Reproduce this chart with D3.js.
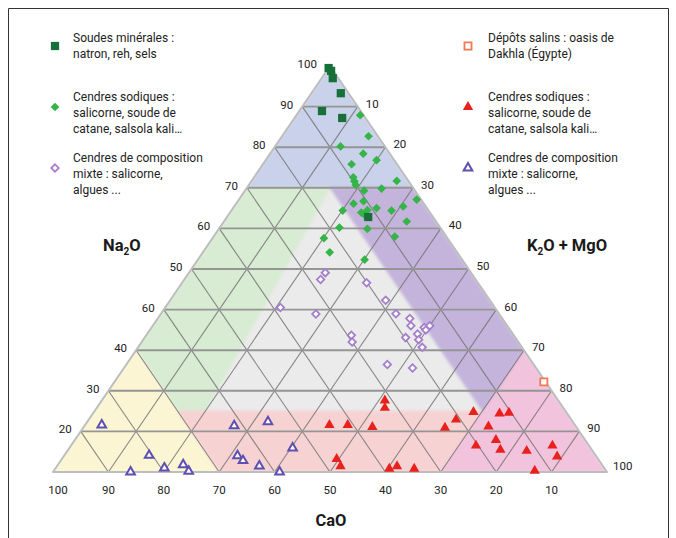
<!DOCTYPE html>
<html>
<head>
<meta charset="utf-8">
<script src="https://cdn.jsdelivr.net/npm/d3@7"></script>
<style>
  html, body { margin: 0; padding: 0; background: #fff; }
  svg { display: block; font-family: Roboto, "Noto Sans", sans-serif; }
</style>
</head>
<body>
<script>
// ---------- DATA (each point = [Na2O, CaO, K2O+MgO], %) ----------
const soudesMinerales = [
  [99.5, 0.5, 0.0], [98.8, 0.4, 0.8], [97.0, 1.0, 2.0], [93.3, 1.4, 5.3],
  [88.9, 7.0, 4.1], [87.2, 4.2, 8.6], [62.8, 11.7, 25.5]
];
const cendresSodiquesVert = [
  [87.9, 0.6, 11.5], [82.7, 1.7, 15.6], [80.2, 8.0, 11.8], [78.4, 4.8, 16.8],
  [76.8, 3.2, 20.0], [75.8, 8.2, 16.0], [72.6, 9.5, 17.9], [71.6, 9.8, 18.6],
  [70.7, 10.0, 19.3], [71.7, 2.1, 26.2], [69.8, 5.8, 24.4], [69.3, 9.2, 21.5],
  [67.1, 0.8, 32.1], [66.1, 12.7, 21.2], [66.7, 10.6, 22.7], [64.4, 15.5, 20.1],
  [65.0, 9.1, 25.9], [64.4, 6.7, 28.9], [65.4, 4.1, 30.5], [63.9, 12.4, 23.7],
  [63.4, 12.1, 24.5], [64.5, 11.0, 24.5], [61.7, 5.3, 33.0], [59.9, 13.3, 26.8],
  [60.2, 18.2, 21.6], [58.0, 9.3, 32.7], [57.6, 22.3, 20.1], [54.1, 23.0, 22.9],
  [52.3, 17.6, 30.1]
];
const cendresMixtesLosange = [
  [49.1, 26.3, 24.6], [47.4, 28.0, 24.6], [46.6, 20.1, 33.3], [42.3, 18.8, 38.9],
  [40.5, 38.7, 20.8], [38.9, 33.1, 28.0], [39.0, 18.6, 42.4], [37.8, 16.7, 45.5],
  [36.0, 17.4, 46.6], [35.6, 15.2, 49.2], [36.0, 14.0, 50.0], [35.0, 15.2, 49.8],
  [34.0, 17.2, 48.8], [33.1, 19.8, 47.1], [33.7, 29.3, 37.0], [32.0, 30.0, 38.0],
  [32.6, 17.7, 49.7], [30.7, 18.0, 51.3], [26.5, 26.4, 47.1], [25.6, 22.3, 52.1]
];
const depotsSalins = [
  [22.2, 0.3, 77.5]
];
const cendresSodiquesRouge = [
  [17.6, 31.3, 51.1], [15.8, 32.2, 52.0], [11.6, 44.3, 44.1], [11.6, 41.0, 47.4],
  [11.1, 36.8, 52.1], [10.9, 23.8, 65.3], [12.9, 20.8, 66.3], [14.8, 16.7, 68.5],
  [14.4, 12.2, 73.4], [14.6, 10.4, 75.0], [11.2, 15.8, 73.0], [7.9, 16.1, 76.0],
  [6.5, 20.4, 73.1], [5.5, 16.5, 78.0], [5.2, 11.9, 82.9], [6.5, 6.6, 86.9],
  [3.8, 7.1, 89.1], [0.3, 12.9, 86.8], [3.2, 47.2, 49.6], [1.4, 47.4, 51.2],
  [0.8, 38.9, 60.3], [1.4, 37.2, 61.4], [0.8, 34.4, 64.8]
];
const cendresMixtesTriangle = [
  [11.6, 85.4, 3.0], [4.1, 80.6, 15.3], [0.0, 86.0, 14.0], [1.0, 79.4, 19.6],
  [1.8, 75.6, 22.6], [0.2, 75.4, 24.4], [11.4, 61.6, 27.0], [12.4, 55.0, 32.6],
  [4.0, 64.7, 31.3], [2.8, 64.3, 32.9], [1.5, 62.0, 36.5], [5.9, 53.8, 40.3],
  [0.0, 59.1, 40.9]
];

// tick values and labels
const gridValues = [10, 20, 30, 40, 50, 60, 70, 80, 90];
const na2oTickValues = [100, 90, 80, 70, 60, 50, 40, 30, 20, 10];
const na2oTickLabels = ["100", "90", "80", "70", "60", "50", "60", "40", "30", "20"];
const k2oTickValues = [10, 20, 30, 40, 50, 60, 70, 80, 90, 100];
const k2oTickLabels = ["10", "20", "30", "40", "50", "60", "70", "80", "90", "100"];
const caoTickValues = [100, 90, 80, 70, 60, 50, 40, 30, 20, 10];
const caoTickLabels = ["100", "90", "80", "70", "60", "50", "40", "30", "20", "10"];

// background zones (vertices in [Na2O, CaO, K2O+MgO])
const zoneNames = ["gris", "bleu", "vert", "jaune", "rose", "magenta", "violet"];
const zoneColors = ["#ebebeb", "#c9d2ea", "#d8ebd3", "#fbf5d3", "#f7d2d3", "#f2c3dd", "#c4b4dc"];
const zoneVertices = [
  [[100, 0, 0], [0, 100, 0], [0, 0, 100]],
  [[100, 0, 0], [70, 30, 0], [70, 0, 30]],
  [[70, 30, 0], [70, 15, 15], [15, 65, 20], [15, 70, 15], [30, 70, 0]],
  [[30, 70, 0], [0, 100, 0], [0, 70, 30]],
  [[15, 70, 15], [0, 70, 30], [0, 30, 70], [15, 15, 70]],
  [[30, 0, 70], [0, 0, 100], [0, 30, 70]],
  [[70, 15, 15], [70, 0, 30], [30, 0, 70], [15, 15, 70]]
];

// legend
const legendLeft = [
  { key: "square", lines: ["Soudes minérales :", "natron, reh, sels"] },
  { key: "diamond", lines: ["Cendres sodiques :", "salicorne, soude de", "catane, salsola kali\u2026"] },
  { key: "diamondOpen", lines: ["Cendres de composition", "mixte : salicorne,", "algues ..."] }
];
const legendRight = [
  { key: "squareOpen", lines: ["Dépôts salins : oasis de", "Dakhla (Égypte)"] },
  { key: "triangle", lines: ["Cendres sodiques :", "salicorne, soude de", "catane, salsola kali\u2026"] },
  { key: "triangleOpen", lines: ["Cendres de composition", "mixte : salicorne,", "algues ..."] }
];

// ---------- DRAWING ----------
const W = 676, H = 538;
const svg = d3.select("body").append("svg").attr("width", W).attr("height", H);

// frame
svg.append("path")
  .attr("d", "M8.5,538 L8.5,8.5 L668.5,8.5 L668.5,538")
  .attr("fill", "none").attr("stroke", "#333").attr("stroke-width", 1);

const xS = d3.scaleLinear().domain([0, 100]).range([53, 607]);
const yS = d3.scaleLinear().domain([0, 100]).range([472, 66]);
function proj(d) { const na = d[0], k = d[2]; return [xS(k + na / 2), yS(na)]; }
const line = d3.line();

const defs = svg.append("defs");
defs.append("clipPath").attr("id", "triClip")
  .append("path").attr("d", line(zoneVertices[0].map(proj)) + "Z");
const blur = defs.append("filter").attr("id", "soft")
  .attr("x", "-5%").attr("y", "-5%").attr("width", "110%").attr("height", "110%");
blur.append("feGaussianBlur").attr("stdDeviation", 1.8);

const zonesG = svg.append("g").attr("clip-path", "url(#triClip)")
  .append("g").attr("filter", "url(#soft)");
zonesG.selectAll("path").data(zoneVertices).join("path")
  .attr("d", v => line(v.map(proj)) + "Z")
  .attr("fill", (v, i) => zoneColors[i])
  .attr("stroke", (v, i) => i === 0 ? "none" : zoneColors[i])
  .attr("stroke-width", 1);

// grid
const gridG = svg.append("g");
const diagLines = [];
gridValues.forEach(v => {
  diagLines.push([[0, v, 100 - v], [100 - v, v, 0]]);      // CaO constant
  diagLines.push([[0, 100 - v, v], [100 - v, 0, v]]);      // K2O constant
});
gridG.selectAll("path.diag").data(diagLines).join("path").attr("class", "diag")
  .attr("d", s => line(s.map(proj)))
  .attr("stroke", "#747474").attr("stroke-width", 1.1).attr("stroke-opacity", 0.85).attr("fill", "none");
gridG.selectAll("path.hor").data(gridValues).join("path").attr("class", "hor")
  .attr("d", v => line([[v, 100 - v, 0], [v, 0, 100 - v]].map(proj)))
  .attr("stroke", "#959595").attr("stroke-width", 1.9).attr("fill", "none");

// outline
svg.append("path").attr("d", line(zoneVertices[0].map(proj)) + "Z")
  .attr("fill", "none").attr("stroke", "#bdbdbd").attr("stroke-width", 2).attr("stroke-linejoin", "round");

// tick labels
const tickG = svg.append("g").attr("font-size", 11.5).attr("fill", "#222");
tickG.selectAll("text.na").data(na2oTickValues).join("text").attr("class", "na")
  .attr("x", v => proj([v, 100 - v, 0])[0] - (v === 100 ? 13 : 9))
  .attr("y", v => proj([v, 100 - v, 0])[1] + 2)
  .attr("text-anchor", "end")
  .text((v, i) => na2oTickLabels[i]);
tickG.selectAll("text.k").data(k2oTickValues).join("text").attr("class", "k")
  .attr("x", v => proj([100 - v, 0, v])[0] + (v === 100 ? 6 : 8))
  .attr("y", v => proj([100 - v, 0, v])[1] + (v === 100 ? -2 : 1))
  .attr("text-anchor", "start")
  .text((v, i) => k2oTickLabels[i]);
tickG.selectAll("text.ca").data(caoTickValues).join("text").attr("class", "ca")
  .attr("x", v => proj([0, v, 100 - v])[0] + (v === 100 ? 5 : 0))
  .attr("y", v => proj([0, v, 100 - v])[1] + 22)
  .attr("text-anchor", "middle")
  .text((v, i) => caoTickLabels[i]);

// axis titles
const titleG = svg.append("g").attr("font-size", 16.5).attr("font-weight", "bold").attr("fill", "#1a1a1a");
const naT = titleG.append("text").attr("x", 103).attr("y", 251);
naT.append("tspan").text("Na");
naT.append("tspan").attr("font-size", 10).attr("dy", 4).text("2");
naT.append("tspan").attr("dy", -4).text("O");
const kT = titleG.append("text").attr("x", 527).attr("y", 251);
kT.append("tspan").text("K");
kT.append("tspan").attr("font-size", 10).attr("dy", 4).text("2");
kT.append("tspan").attr("dy", -4).text("O + MgO");
titleG.append("text").attr("x", 331).attr("y", 526).attr("text-anchor", "middle").text("CaO");

// markers
const styles = {
  square:       { type: d3.symbolSquare,   size: 68, fill: "#17703a", stroke: "none", sw: 0, rot: 0 },
  diamond:      { type: d3.symbolSquare,   size: 38, fill: "#35b448", stroke: "none", sw: 0, rot: 45 },
  diamondOpen:  { type: d3.symbolSquare,   size: 28, fill: "#ffffff", stroke: "#a47fcc", sw: 1.8, rot: 45 },
  squareOpen:   { type: d3.symbolSquare,   size: 50, fill: "#ffffff", stroke: "#f07a55", sw: 1.8, rot: 0 },
  triangle:     { type: d3.symbolTriangle, size: 46, fill: "#e8211d", stroke: "none", sw: 0, rot: 0 },
  triangleOpen: { type: d3.symbolTriangle, size: 32, fill: "#ffffff", stroke: "#5e4fb0", sw: 2, rot: 0 }
};
function drawSeries(data, key) {
  const st = styles[key];
  const sym = d3.symbol().type(st.type).size(st.size);
  svg.append("g").selectAll("path").data(data).join("path")
    .attr("d", sym)
    .attr("transform", d => { const p = proj(d); return `translate(${p[0]},${p[1]}) rotate(${st.rot})`; })
    .attr("fill", st.fill).attr("stroke", st.stroke).attr("stroke-width", st.sw);
}
drawSeries(cendresMixtesTriangle, "triangleOpen");
drawSeries(cendresMixtesLosange, "diamondOpen");
drawSeries(cendresSodiquesRouge, "triangle");
drawSeries(depotsSalins, "squareOpen");
drawSeries(cendresSodiquesVert, "diamond");
drawSeries(soudesMinerales, "square");

// legend
const legendTop = [42, 101, 162];
function drawLegend(items, mx, tx) {
  const g = svg.append("g").attr("font-size", 12).attr("fill", "#222");
  items.forEach((it, i) => {
    const st = styles[it.key];
    const n = it.lines.length;
    g.append("path")
      .attr("d", d3.symbol().type(st.type).size(st.size)())
      .attr("transform", `translate(${mx},${legendTop[i] - 4 + (n === 2 ? 8 : 10)}) rotate(${st.rot})`)
      .attr("fill", st.fill).attr("stroke", st.stroke).attr("stroke-width", st.sw);
    it.lines.forEach((t, j) => {
      g.append("text").attr("x", tx).attr("y", legendTop[i] + j * 16).text(t);
    });
  });
}
drawLegend(legendLeft, 55, 73);
drawLegend(legendRight, 468, 488);
</script>
</body>
</html>
